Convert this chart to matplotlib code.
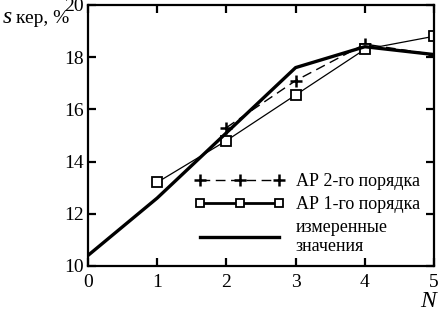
import matplotlib

matplotlib.use("Agg")
import matplotlib.pyplot as plt  # noqa: E402

# data
n_meas = [0, 1, 2, 3, 4, 5]
s_meas = [10.4, 12.6, 15.1, 17.6, 18.4, 18.1]

n_ar1 = [1, 2, 3, 4, 5]
s_ar1 = [13.2, 14.8, 16.55, 18.3, 18.8]

n_ar2 = [2, 3, 4, 5]
s_ar2 = [15.3, 17.1, 18.5, 18.1]

x_ticks = [0, 1, 2, 3, 4, 5]
y_ticks = [10, 12, 14, 16, 18, 20]

plt.rcParams["font.family"] = ["Liberation Serif", "DejaVu Serif"]

fig = plt.figure(figsize=(4.42, 3.11), dpi=100)
ax = fig.add_axes([0.199, 0.145, 0.783, 0.839])

ax.plot(n_ar2, s_ar2, color="black", lw=1.0, ls=(0, (7, 4)), marker="+",
        ms=9, mew=1.8, label="АР 2-го порядка")
ax.plot(n_ar1, s_ar1, color="black", lw=0.9, marker="s", ms=7, mfc="white",
        mew=1.3, label="АР 1-го порядка")
ax.plot(n_meas, s_meas, color="black", lw=2.4, label="измеренные\nзначения")

ax.set_xlim(0, 5)
ax.set_ylim(10, 20)
ax.set_xticks(x_ticks)
ax.set_yticks(y_ticks)
ax.tick_params(direction="in", length=6, width=1.6, top=True, right=True,
               labelsize=14, pad=3)
ax.tick_params(axis="x", pad=6)
for sp in ax.spines.values():
    sp.set_linewidth(1.6)

leg = ax.legend(loc="lower right", bbox_to_anchor=(0.995, -0.008), frameon=False,
                fontsize=13, numpoints=3, handlelength=5.0, handletextpad=0.6,
                labelspacing=0.32, borderaxespad=0.3)
leg.legend_handles[0].set_markersize(8)
leg.legend_handles[1].set_linewidth(2.0)
leg.legend_handles[1].set_markersize(6)

fig.text(0.007, 0.925, "s", style="italic", fontsize=17)
fig.text(0.036, 0.925, "кер, %", fontsize=14)
fig.text(0.95, 0.012, "N", style="italic", fontsize=17)

fig.savefig("out.png", dpi=100)
